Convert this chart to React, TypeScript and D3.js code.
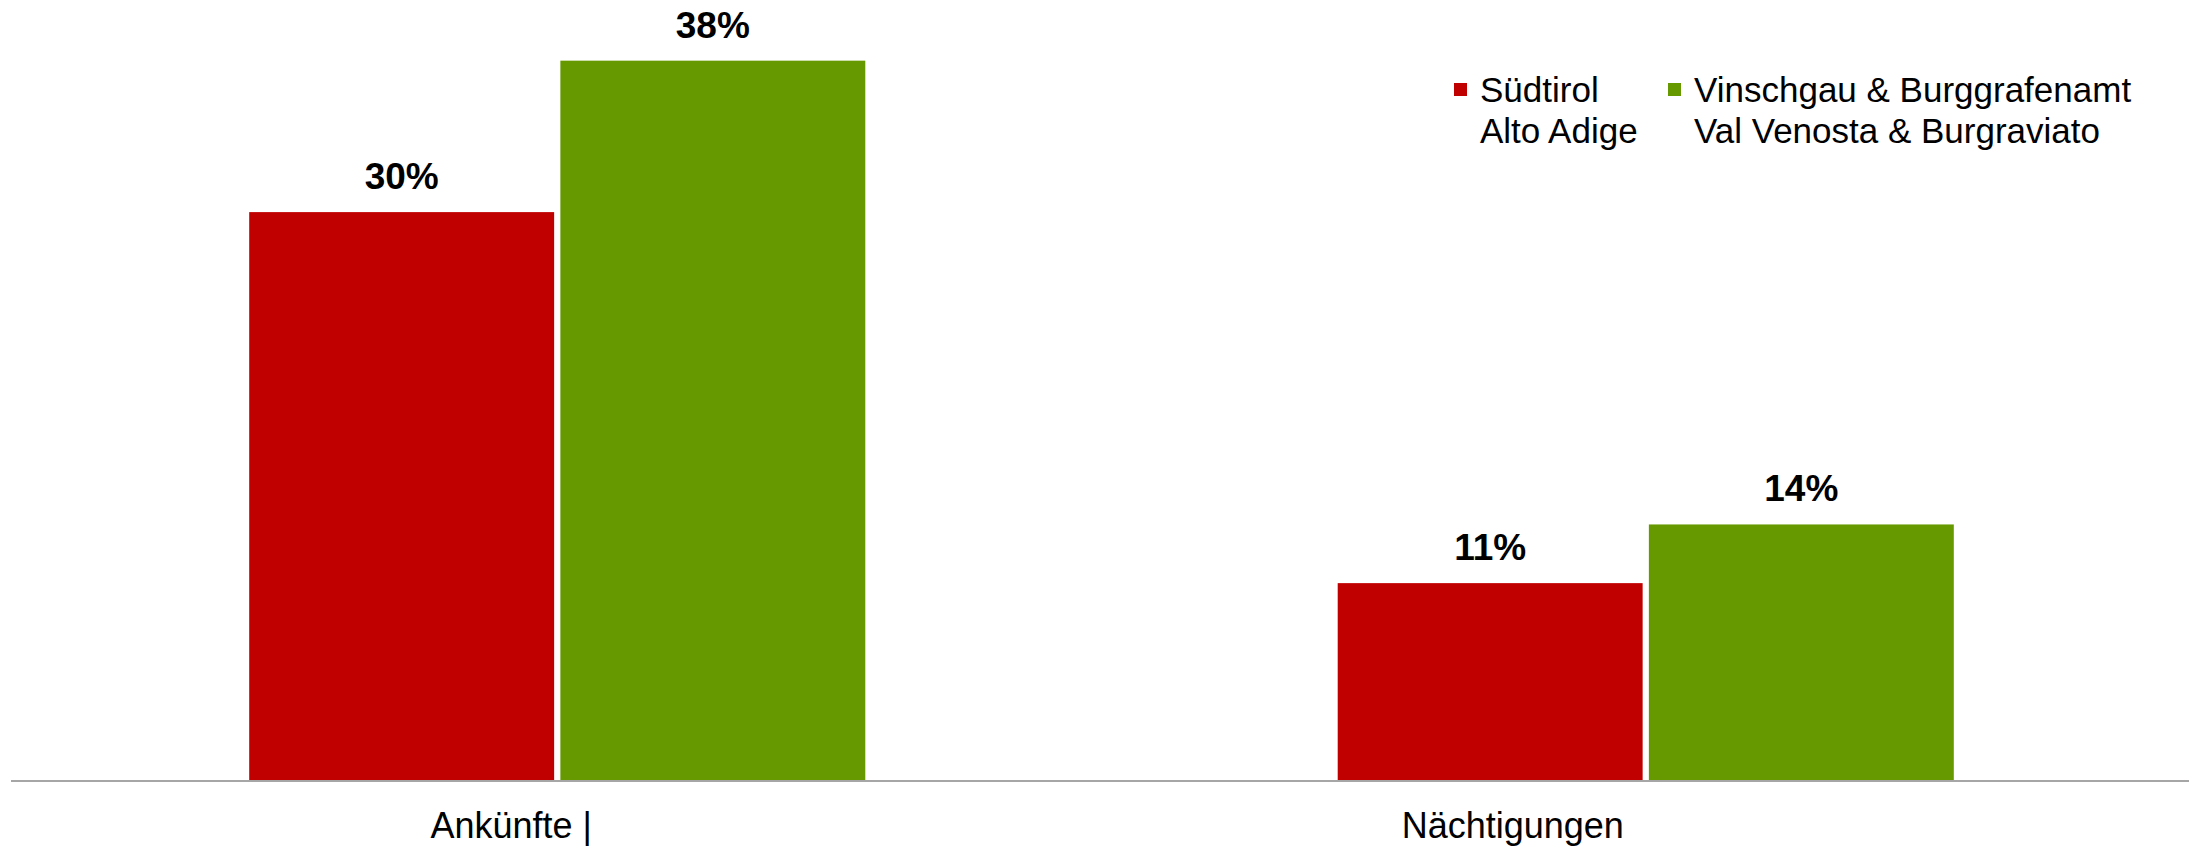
import React from "react";
import * as d3 from "d3";

const categories = ["Ankünfte |", "Nächtigungen"];
const seriesNames = ["Südtirol", "Vinschgau & Burggrafenamt"];
const seriesSubNames = ["Alto Adige", "Val Venosta & Burgraviato"];
const suedtirol = [30, 10.4];
const vinschgau = [38, 13.5];
const labelsSuedtirol = ["30%", "11%"];
const labelsVinschgau = ["38%", "14%"];
const colors = ["#c00000", "#669900"];
const categoryLabelShift = [-46, -133];

const W = 2201;
const H = 849;

export default function App() {
  const values = [suedtirol, vinschgau];
  const labels = [labelsSuedtirol, labelsVinschgau];
  const x0 = d3
    .scaleBand<string>()
    .domain(categories)
    .range([13, 2190])
    .paddingInner(0.434)
    .paddingOuter(0.217);
  const x1 = d3
    .scaleBand<string>()
    .domain(seriesNames)
    .range([0, x0.bandwidth()])
    .paddingInner(0.02);
  const y = d3.scaleLinear().domain([0, 40]).range([780, 22.8]);
  const font = "'Liberation Sans', Arial, sans-serif";

  return (
    <svg
      width={W}
      height={H}
      style={{ position: "absolute", left: 0, top: 0, display: "block" }}
      fontFamily={font}
    >
      <rect x={0} y={0} width={W} height={H} fill="#fff" />
      {categories.map((c, ci) => (
        <g key={c}>
          {seriesNames.map((s, si) => {
            const v = values[si][ci];
            const bx = (x0(c) ?? 0) + (x1(s) ?? 0);
            return (
              <g key={s}>
                <rect
                  x={bx}
                  y={y(v)}
                  width={x1.bandwidth()}
                  height={y(0) - y(v)}
                  fill={colors[si]}
                />
                <text
                  x={bx + x1.bandwidth() / 2}
                  y={y(v) - 23}
                  textAnchor="middle"
                  fontSize={37}
                  fontWeight="bold"
                  fill="#000"
                >
                  {labels[si][ci]}
                </text>
              </g>
            );
          })}
          <text
            x={(x0(c) ?? 0) + x0.bandwidth() / 2 + categoryLabelShift[ci]}
            y={838}
            textAnchor="middle"
            fontSize={36}
            fill="#000"
          >
            {c}
          </text>
        </g>
      ))}
      <line x1={11} x2={2189} y1={781} y2={781} stroke="#a6a6a6" strokeWidth={2} />
      {/* legend */}
      {seriesNames.map((s, si) => {
        const lx = si === 0 ? 1454 : 1668;
        return (
          <g key={s}>
            <rect x={lx} y={83} width={13} height={13} fill={colors[si]} />
            <text x={lx + 26} y={102} fontSize={35} fill="#000">
              {s}
            </text>
            <text x={lx + 26} y={142.5} fontSize={35} fill="#000">
              {seriesSubNames[si]}
            </text>
          </g>
        );
      })}
    </svg>
  );
}
